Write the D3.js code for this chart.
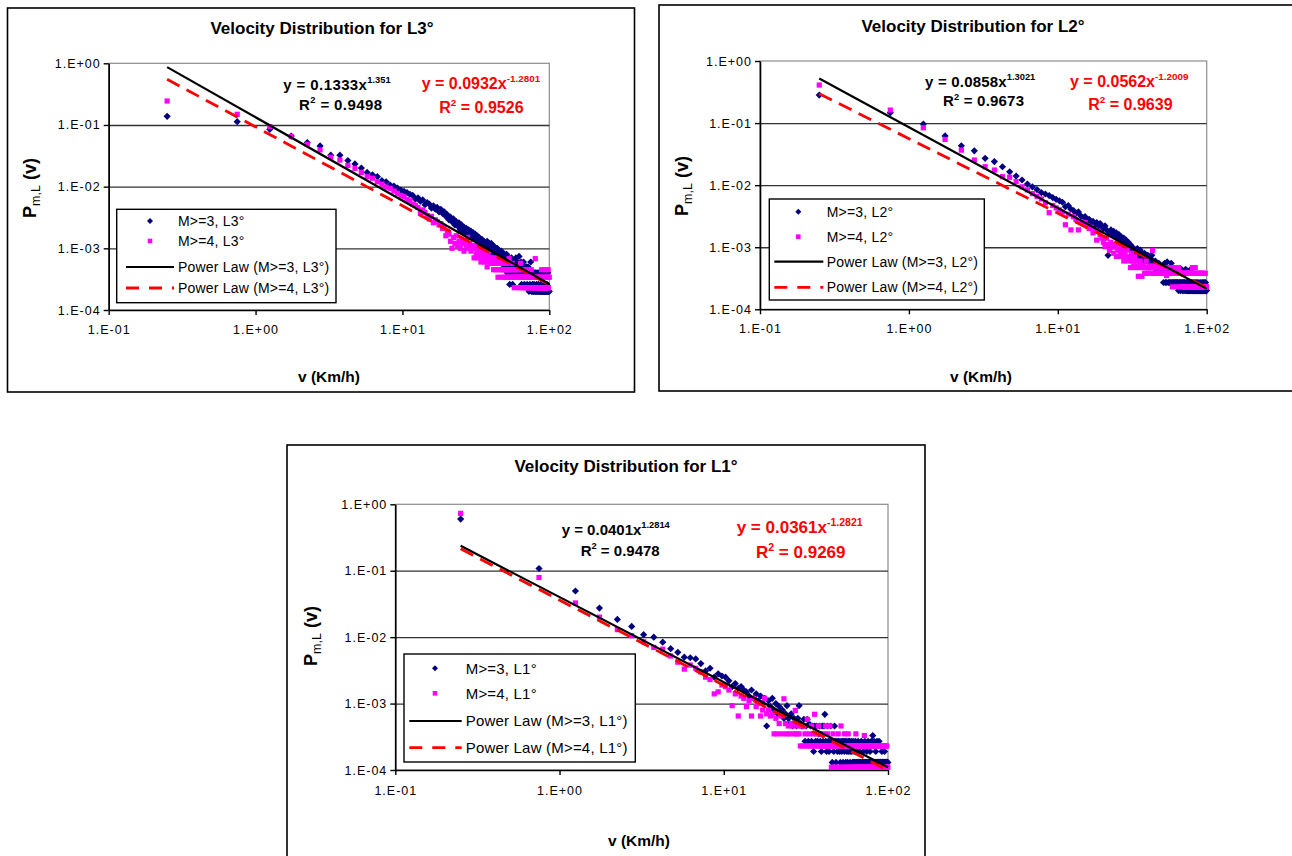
<!DOCTYPE html>
<html>
<head>
<meta charset="utf-8">
<script src="https://cdn.jsdelivr.net/npm/d3@7"></script>
<style>
  body { margin: 0; background: #fff; }
  svg text { font-family: Arial, "Liberation Sans", sans-serif; }
</style>
</head>
<body>
<svg id="chart" width="1292" height="856"></svg>
<script>
// velocity bins (km/h), shared by all series
const velocity = [
  0.25, 0.75, 1.25, 1.75, 2.25, 2.75, 3.25, 3.75, 4.25, 4.75, 5.25, 5.75, 6.25, 6.75, 7.25, 7.75, 8.25, 8.75, 9.25, 9.75,
  10.25, 10.75, 11.25, 11.75, 12.25, 12.75, 13.25, 13.75, 14.25, 14.75, 15.25, 15.75, 16.25, 16.75, 17.25, 17.75, 18.25, 18.75, 19.25, 19.75,
  20.25, 20.75, 21.25, 21.75, 22.25, 22.75, 23.25, 23.75, 24.25, 24.75, 25.25, 25.75, 26.25, 26.75, 27.25, 27.75, 28.25, 28.75, 29.25, 29.75,
  30.25, 30.75, 31.25, 31.75, 32.25, 32.75, 33.25, 33.75, 34.25, 34.75, 35.25, 35.75, 36.25, 36.75, 37.25, 37.75, 38.25, 38.75, 39.25, 39.75,
  40.25, 40.75, 41.25, 41.75, 42.25, 42.75, 43.25, 43.75, 44.25, 44.75, 45.25, 45.75, 46.25, 46.75, 47.25, 47.75, 48.25, 48.75, 49.25, 49.75,
  50.25, 50.75, 51.25, 51.75, 52.25, 52.75, 53.25, 53.75, 54.25, 54.75, 55.25, 55.75, 56.25, 56.75, 57.25, 57.75, 58.25, 58.75, 59.25, 59.75,
  60.25, 60.75, 61.25, 61.75, 62.25, 62.75, 63.25, 63.75, 64.25, 64.75, 65.25, 65.75, 66.25, 66.75, 67.25, 67.75, 68.25, 68.75, 69.25, 69.75,
  70.25, 70.75, 71.25, 71.75, 72.25, 72.75, 73.25, 73.75, 74.25, 74.75, 75.25, 75.75, 76.25, 76.75, 77.25, 77.75, 78.25, 78.75, 79.25, 79.75,
  80.25, 80.75, 81.25, 81.75, 82.25, 82.75, 83.25, 83.75, 84.25, 84.75, 85.25, 85.75, 86.25, 86.75, 87.25, 87.75, 88.25, 88.75, 89.25, 89.75,
  90.25, 90.75, 91.25, 91.75, 92.25, 92.75, 93.25, 93.75, 94.25, 94.75, 95.25, 95.75, 96.25, 96.75, 97.25, 97.75, 98.25, 98.75, 99.25, 99.75
];

// P(v) for L3°
const l3M3 = [
  0.138, 0.113, 0.085, 0.066, 0.052, 0.0457, 0.0324, 0.0324, 0.0265, 0.0234, 0.020, 0.017, 0.0156, 0.0145, 0.0125, 0.012, 0.0106, 0.0102, 0.0095, 0.0088,
  0.0084, 0.0080, 0.0075, 0.0072, 0.0063, 0.0066, 0.0058, 0.0061, 0.0051, 0.0055, 0.0052, 0.0045, 0.0049, 0.0043, 0.0046, 0.0039, 0.0043, 0.0037, 0.0039, 0.0033,
  0.0035, 0.0029, 0.0032, 0.0027, 0.0030, 0.0024, 0.0027, 0.0023, 0.0026, 0.0020, 0.0024, 0.0019, 0.0022, 0.0018, 0.0021, 0.0017, 0.0020, 0.0016, 0.0019, 0.0015,
  0.0018, 0.0015, 0.0017, 0.0014, 0.0016, 0.0012, 0.0015, 0.0013, 0.0011, 0.0014, 0.0012, 0.0013, 0.0010, 0.0012, 0.0011, 0.0013, 0.0009, 0.0012, 0.0010, 0.0011,
  0.0012, 0.0010, 0.0008, 0.0011, 0.0009, 0.0010, 0.0007, 0.0009, 0.0010, 0.0008, 0.0006, 0.0009, 0.0008, 0.0007, 0.0009, 0.0006, 0.0008, 0.0007, 0.0005, 0.0008,
  0.0007, 0.0006, 0.0008, 0.0004, 0.0006, 0.0007, 0.0005, 0.00026, 0.0006, 0.0004, 0.0007, 0.0005, 0.00026, 0.0006, 0.0004, 0.0005, 0.0006, 0.0004, 0.0007, 0.0005,
  0.0004, 0.0006, 0.0005, 0.0004, 0.00074, 0.0004, 0.0005, 0.0004, 0.0006, 0.00026, 0.0004, 0.0005, 0.0004, 0.0006, 0.0004, 0.00026, 0.0005, 0.0004, 0.0004, 0.0005,
  0.0004, 0.00026, 0.0004, 0.0005, 0.0004, 0.0002, 0.0004, 0.00026, 0.0004, 0.0006, 0.0004, 0.0002, 0.0004, 0.00026, 0.0002, 0.0004, 0.0002, 0.00026, 0.0004, 0.0002,
  0.0002, 0.0004, 0.0002, 0.00026, 0.0002, 0.0004, 0.0002, 0.0002, 0.00026, 0.0004, 0.0002, 0.0002, 0.0004, 0.0002, 0.00026, 0.0002, 0.0002, 0.0004, 0.0002, 0.0002,
  0.0002, 0.0002, 0.0004, 0.0002, 0.0002, 0.00026, 0.0002, 0.0002, 0.0004, 0.0002, 0.0002, 0.0002, 0.00026, 0.0002, 0.0002, 0.0004, 0.0002, 0.0002, 0.0002, 0.0002
];
const l3M4 = [
  0.245, 0.149, 0.094, 0.065, 0.0487, 0.0394, 0.030, 0.027, 0.022, 0.0198, 0.017, 0.0145, 0.0137, 0.012, 0.011, 0.0098, 0.0094, 0.0085, 0.0078, 0.0072,
  0.0068, 0.0062, 0.0059, 0.0052, 0.0050, 0.0046, 0.0037, 0.0042, 0.0038, 0.0034, 0.0030, 0.0033, 0.0026, 0.0029, 0.0027, 0.0024, 0.0025, 0.0021, 0.0022, 0.0016,
  0.0019, 0.0017, 0.0013, 0.0010, 0.0015, 0.0012, 0.0016, 0.0011, 0.0013, 0.0010, 0.0014, 0.0012, 0.0009, 0.0013, 0.0011, 0.0015, 0.0010, 0.0012, 0.0009, 0.0011,
  0.0010, 0.0007, 0.0011, 0.0008, 0.0009, 0.0007, 0.0010, 0.0008, 0.0006, 0.0009, 0.0007, 0.0008, 0.0006, 0.0009, 0.0007, 0.0005, 0.0008, 0.0006, 0.0007, 0.0006,
  0.0007, 0.00057, 0.0006, 0.00045, 0.0007, 0.00057, 0.00045, 0.0006, 0.00057, 0.00034, 0.00045, 0.00057, 0.0006, 0.00045, 0.00034, 0.00057, 0.00045, 0.00057, 0.00034, 0.00045,
  0.00045, 0.00034, 0.00057, 0.00045, 0.00034, 0.00045, 0.00068, 0.00034, 0.00045, 0.00034, 0.00045, 0.00057, 0.00034, 0.00045, 0.00034, 0.00023, 0.00045, 0.00034, 0.00045, 0.00034,
  0.00034, 0.00045, 0.00034, 0.00023, 0.00045, 0.00034, 0.00034, 0.00057, 0.00034, 0.00023, 0.00034, 0.00045, 0.00034, 0.00034, 0.00023, 0.00045, 0.00034, 0.00034, 0.00023, 0.00034,
  0.00034, 0.00023, 0.00034, 0.00045, 0.00023, 0.00034, 0.00023, 0.00034, 0.00023, 0.00034, 0.00045, 0.00023, 0.00034, 0.00023, 0.00023, 0.00034, 0.00023, 0.00034, 0.00023, 0.00023,
  0.00068, 0.00023, 0.00034, 0.00023, 0.00023, 0.00034, 0.00023, 0.00023, 0.00034, 0.00023, 0.00023, 0.00034, 0.00023, 0.00023, 0.00023, 0.00034, 0.00023, 0.00045, 0.00023, 0.00023,
  0.00023, 0.00034, 0.00023, 0.00023, 0.00023, 0.00034, 0.00023, 0.00023, 0.00045, 0.00023, 0.00034, 0.00023, 0.00023, 0.00034, 0.00023, 0.00023, 0.00045, 0.00023, 0.00034, 0.00034
];

// P(v) for L2°
const l2M3 = [
  0.283, 0.147, 0.0964, 0.062, 0.043, 0.0357, 0.027, 0.024, 0.0198, 0.0164, 0.014, 0.0121, 0.0104, 0.0094, 0.0085, 0.0076, 0.0072, 0.0068, 0.0063, 0.0059,
  0.0056, 0.0053, 0.0045, 0.0047, 0.0041, 0.0039, 0.0035, 0.0037, 0.0032, 0.0030, 0.0031, 0.0027, 0.0028, 0.0025, 0.0026, 0.0023, 0.0025, 0.0022, 0.0024, 0.0021,
  0.0020, 0.0022, 0.0019, 0.00074, 0.0017, 0.0019, 0.0016, 0.0018, 0.0015, 0.0017, 0.0014, 0.0016, 0.0013, 0.00146, 0.0012, 0.0014, 0.0011, 0.0013, 0.00114, 0.0012,
  0.0010, 0.0011, 0.0009, 0.0010, 0.00095, 0.0008, 0.0009, 0.0007, 0.00095, 0.0008, 0.0007, 0.0009, 0.0006, 0.0008, 0.0007, 0.0006, 0.0008, 0.0007, 0.0006, 0.0007,
  0.00074, 0.0006, 0.0007, 0.00055, 0.0006, 0.00074, 0.0005, 0.0006, 0.00055, 0.0005, 0.0006, 0.00044, 0.00055, 0.0005, 0.00044, 0.00055, 0.0005, 0.00044, 0.0005, 0.00044,
  0.00044, 0.0005, 0.00027, 0.00044, 0.00055, 0.00027, 0.00044, 0.00027, 0.00058, 0.00044, 0.00027, 0.00044, 0.00027, 0.00044, 0.00027, 0.00055, 0.00027, 0.00044, 0.00027, 0.00027,
  0.00044, 0.00027, 0.00027, 0.00044, 0.00027, 0.00027, 0.00044, 0.00027, 0.00027, 0.0002, 0.00044, 0.00027, 0.00027, 0.0002, 0.00027, 0.00044, 0.00027, 0.0002, 0.00027, 0.00027,
  0.0002, 0.00027, 0.00027, 0.0002, 0.00044, 0.00027, 0.0002, 0.00027, 0.0002, 0.00027, 0.0002, 0.00027, 0.0002, 0.0002, 0.00027, 0.0002, 0.00044, 0.0002, 0.00027, 0.0002,
  0.0002, 0.00027, 0.0002, 0.0002, 0.00027, 0.0002, 0.0002, 0.00027, 0.0002, 0.0002, 0.00027, 0.0002, 0.0002, 0.0002, 0.00027, 0.0002, 0.0002, 0.00027, 0.0002, 0.0002,
  0.0002, 0.0002, 0.00027, 0.0002, 0.0002, 0.0002, 0.00027, 0.0002, 0.0002, 0.00027, 0.0002, 0.0002, 0.0002, 0.00027, 0.0002, 0.0002, 0.00027, 0.0002, 0.0002, 0.0002
];
const l2M4 = [
  0.41, 0.162, 0.084, 0.0546, 0.0367, 0.0254, 0.0198, 0.0175, 0.0137, 0.0134, 0.0114, 0.0094, 0.0084, 0.0073, 0.0066, 0.0060, 0.0052, 0.0036, 0.0047, 0.0043,
  0.0040, 0.0037, 0.0023, 0.0034, 0.0019, 0.0031, 0.0028, 0.0019, 0.0026, 0.0024, 0.0025, 0.0022, 0.0020, 0.0021, 0.0017, 0.0019, 0.0013, 0.0018, 0.0016, 0.0014,
  0.0012, 0.00102, 0.0014, 0.0011, 0.00089, 0.0012, 0.0010, 0.0008, 0.0011, 0.00071, 0.0009, 0.0010, 0.0008, 0.00071, 0.0009, 0.0006, 0.0008, 0.0007, 0.0009, 0.0006,
  0.0007, 0.00047, 0.0008, 0.0006, 0.0005, 0.0007, 0.00047, 0.0006, 0.0005, 0.00034, 0.00047, 0.0006, 0.0005, 0.00034, 0.00047, 0.0005, 0.00038, 0.00047, 0.0006, 0.00038,
  0.00047, 0.00038, 0.0005, 0.00038, 0.00047, 0.00038, 0.00089, 0.00047, 0.00038, 0.0005, 0.00038, 0.00047, 0.00038, 0.00038, 0.00047, 0.00038, 0.00038, 0.00047, 0.00038, 0.00038,
  0.00038, 0.00047, 0.00038, 0.00038, 0.00047, 0.00038, 0.00038, 0.00035, 0.00038, 0.00047, 0.00038, 0.00038, 0.00038, 0.00047, 0.00038, 0.00038, 0.00038, 0.00023, 0.00038, 0.00038,
  0.00038, 0.00038, 0.00047, 0.00038, 0.00038, 0.00023, 0.00038, 0.00038, 0.00038, 0.00047, 0.00038, 0.00038, 0.00023, 0.00038, 0.00038, 0.00038, 0.00023, 0.00038, 0.00038, 0.00023,
  0.00038, 0.00023, 0.00038, 0.00038, 0.00023, 0.00038, 0.00023, 0.00038, 0.00038, 0.00023, 0.00038, 0.00023, 0.00038, 0.00023, 0.00038, 0.00023, 0.00023, 0.00038, 0.00023, 0.00038,
  0.00047, 0.00023, 0.00038, 0.00023, 0.00023, 0.00038, 0.00023, 0.00047, 0.00023, 0.00038, 0.00023, 0.00023, 0.00038, 0.00023, 0.00023, 0.00038, 0.00023, 0.00023, 0.00038, 0.00023,
  0.00023, 0.00038, 0.00023, 0.00023, 0.00038, 0.00023, 0.00023, 0.00023, 0.00038, 0.00023, 0.00023, 0.00038, 0.00023, 0.00023, 0.00023, 0.00038, 0.00023, 0.00023, 0.00023, 0.00023
];

// P(v) for L1°
const l1M3 = [
  0.6, 0.108, 0.0495, 0.0274, 0.0185, 0.0145, 0.0109, 0.0100, 0.0084, 0.0067, 0.0059, 0.0050, 0.0049, 0.0047, 0.0040, 0.0031, 0.0034, 0.0025, 0.0028, 0.0026,
  0.0025, 0.0022, 0.0018, 0.0020, 0.0017, 0.0018, 0.0016, 0.0015, 0.0013, 0.0016, 0.0012, 0.0014, 0.0011, 0.0013, 0.0010, 0.0012, 0.00046, 0.0011, 0.0009, 0.0012,
  0.0008, 0.0010, 0.0007, 0.0009, 0.00069, 0.0008, 0.0006, 0.0007, 0.00093, 0.0006, 0.0005, 0.0007, 0.00046, 0.0006, 0.0005, 0.00046, 0.0006, 0.00093, 0.0005, 0.00046,
  0.00046, 0.00058, 0.00027, 0.00046, 0.00058, 0.00027, 0.00049, 0.00046, 0.00027, 0.00046, 0.00019, 0.00046, 0.00027, 0.00046, 0.00027, 0.00035, 0.00046, 0.00027, 0.00019, 0.00046,
  0.00027, 0.00046, 0.00069, 0.00027, 0.00019, 0.00046, 0.00027, 0.00019, 0.00027, 0.00046, 0.00027, 0.00013, 0.00027, 0.00019, 0.00046, 0.00027, 0.00013, 0.00027, 0.00019, 0.00027,
  0.00027, 0.00019, 0.00013, 0.00027, 0.00019, 0.00027, 0.00013, 0.00027, 0.00019, 0.00027, 0.00013, 0.00027, 0.00019, 0.00013, 0.00027, 0.00019, 0.00027, 0.00013, 0.00019, 0.00027,
  0.00019, 0.00013, 0.00027, 0.00013, 0.00019, 0.00013, 0.00027, 0.00013, 0.00013, 0.00019, 0.00013, 0.00027, 0.00013, 0.00013, 0.00019, 0.00013, 0.00013, 0.00027, 0.00013, 0.00013,
  0.00013, 0.00019, 0.00013, 0.00013, 0.00027, 0.00013, 0.00013, 0.00013, 0.00019, 0.00013, 0.00013, 0.00027, 0.00013, 0.00013, 0.00013, 0.00019, 0.00013, 0.00013, 0.00027, 0.00013,
  0.00013, 0.00033, 0.00013, 0.00013, 0.00027, 0.00013, 0.00013, 0.00013, 0.00019, 0.00013, 0.00013, 0.00027, 0.00013, 0.00013, 0.00013, 0.00013, 0.00027, 0.00013, 0.00013, 0.00013,
  0.00013, 0.00013, 0.00013, 0.00019, 0.00013, 0.00013, 0.00013, 0.00013, 0.00013, 0.00013, 0.00019, 0.00013, 0.00013, 0.00013, 0.00013, 0.00013, 0.00013, 0.00013, 0.00013, 0.00013
];
const l1M4 = [
  0.73, 0.079, 0.0327, 0.020, 0.013, 0.0105, 0.0085, 0.0070, 0.0066, 0.0052, 0.0042, 0.0033, 0.0038, 0.0034, 0.0030, 0.0025, 0.0023, 0.0014, 0.0015, 0.0019,
  0.0018, 0.0016, 0.00093, 0.0014, 0.00065, 0.0013, 0.0012, 0.0009, 0.0011, 0.00065, 0.0012, 0.0009, 0.0010, 0.00065, 0.0008, 0.0012, 0.0007, 0.0008, 0.00065, 0.0007,
  0.00035, 0.0006, 0.00035, 0.0005, 0.00065, 0.00035, 0.00118, 0.0005, 0.00035, 0.00046, 0.00035, 0.0005, 0.00046, 0.00035, 0.00079, 0.00035, 0.00046, 0.00035, 0.00023, 0.00046,
  0.00023, 0.00046, 0.00035, 0.00023, 0.00058, 0.00023, 0.00035, 0.00023, 0.00046, 0.00023, 0.00035, 0.00069, 0.00023, 0.00035, 0.00023, 0.00046, 0.00023, 0.00035, 0.00023, 0.00023,
  0.00035, 0.00023, 0.00023, 0.00046, 0.00023, 0.00035, 0.00023, 0.00023, 0.00046, 0.00023, 0.00011, 0.00023, 0.00035, 0.00023, 0.00011, 0.00023, 0.00023, 0.00011, 0.00023, 0.00035,
  0.00023, 0.00011, 0.00023, 0.00046, 0.00011, 0.00023, 0.00023, 0.00011, 0.00035, 0.00023, 0.00011, 0.00023, 0.00011, 0.00023, 0.00035, 0.00011, 0.00023, 0.00011, 0.00023, 0.00011,
  0.00023, 0.00011, 0.00023, 0.00011, 0.00011, 0.00023, 0.00011, 0.00035, 0.00011, 0.00023, 0.00011, 0.00011, 0.00023, 0.00011, 0.00023, 0.00011, 0.00011, 0.00023, 0.00011, 0.00023,
  0.00011, 0.00023, 0.00011, 0.00033, 0.00011, 0.00023, 0.00011, 0.00011, 0.00023, 0.00011, 0.00023, 0.00011, 0.00011, 0.00023, 0.00011, 0.00023, 0.00011, 0.00011, 0.00023, 0.00011,
  0.00023, 0.00011, 0.00023, 0.00011, 0.00011, 0.00023, 0.00011, 0.00023, 0.00011, 0.00011, 0.00023, 0.00011, 0.00011, 0.00023, 0.00011, 0.00011, 0.00023, 0.00011, 0.00011, 0.00023,
  0.00011, 0.00023, 0.00011, 0.00011, 0.00023, 0.00011, 0.00011, 0.00011, 0.00023, 0.00011, 0.00011, 0.00011, 0.00023, 0.00011, 0.00011, 0.00011, 0.00023, 0.00011, 0.00011, 0.00011
];

// power law fits y = a * x^b  [M>=3, M>=4]
const fitA_L3 = [0.1333, 0.0932], fitB_L3 = [-1.351, -1.2801];
const fitA_L2 = [0.0858, 0.0562], fitB_L2 = [-1.3021, -1.2009];
const fitA_L1 = [0.0401, 0.0361], fitB_L1 = [-1.2814, -1.2821];

// equation labels as printed: [coef text, exponent text, R2 text]
const eqL3 = [["y = 0.1333x", "1.351", " = 0.9498"], ["y = 0.0932x", "-1.2801", " = 0.9526"]];
const eqL2 = [["y = 0.0858x", "1.3021", " = 0.9673"], ["y = 0.0562x", "-1.2009", " = 0.9639"]];
const eqL1 = [["y = 0.0401x", "1.2814", " = 0.9478"], ["y = 0.0361x", "-1.2821", " = 0.9269"]];

const xTicks = [0.1, 1, 10, 100];
const xTickLabels = ["1.E-01", "1.E+00", "1.E+01", "1.E+02"];
const yTicks = [1, 0.1, 0.01, 0.001, 0.0001];
const yTickLabels = ["1.E+00", "1.E-01", "1.E-02", "1.E-03", "1.E-04"];

const svg = d3.select("#chart");
const navy = "#000080", magenta = "#FF00FF", red = "#FF0000";
const diamond = "M0,-3.6L3.6,0L0,3.6L-3.6,0Z";
const fontFam = "Arial, 'Liberation Sans', sans-serif";

function drawChart(c) {
  const g = svg.append("g");

  // outer frame
  g.append("rect")
    .attr("x", c.frame[0]).attr("y", c.frame[1])
    .attr("width", c.frame[2]).attr("height", c.frame[3])
    .attr("fill", "#fff").attr("stroke", "#000").attr("stroke-width", 1.6);

  const x = d3.scaleLog().domain([0.1, 100]).range([c.left, c.right]);
  const y = d3.scaleLog().domain([0.0001, 1]).range([c.bottom, c.top]);

  // plot area border
  g.append("rect")
    .attr("x", c.left).attr("y", c.top)
    .attr("width", c.right - c.left).attr("height", c.bottom - c.top)
    .attr("fill", "none").attr("stroke", "#8c8c8c").attr("stroke-width", 1.2);

  // gridlines
  g.append("g")
    .attr("transform", `translate(${c.left},0)`)
    .call(d3.axisLeft(y).tickValues(yTicks.slice(1, 4)).tickSize(-(c.right - c.left)).tickFormat(""))
    .call(s => s.select(".domain").remove())
    .call(s => s.selectAll("line").attr("stroke", "#333").attr("stroke-width", 1.3));

  // axes
  const styleAxis = s => {
    s.select(".domain").attr("stroke", "#000").attr("stroke-width", 1.6);
    s.selectAll("line").attr("stroke", "#000").attr("stroke-width", 1.4);
    s.selectAll("text").style("font-size", c.tickSize + "px").attr("letter-spacing", 1)
      .attr("font-family", fontFam).attr("fill", "#000");
  };
  g.append("g")
    .attr("transform", `translate(${c.left},0)`)
    .call(d3.axisLeft(y).tickValues(yTicks).tickFormat((d, i) => yTickLabels[i]).tickSize(5).tickSizeOuter(0).tickPadding(3))
    .call(styleAxis);

  g.append("g")
    .attr("transform", `translate(0,${c.bottom})`)
    .call(d3.axisBottom(x).tickValues(xTicks).tickFormat((d, i) => xTickLabels[i]).tickSize(5).tickSizeOuter(0).tickPadding(c.xPad))
    .call(styleAxis);

  // scatter series
  const pts = (arr) => arr.map((p, i) => ({ v: velocity[i], p })).filter(d => d.p > 0);

  g.append("g").selectAll("path")
    .data(pts(c.m3))
    .join("path")
    .attr("d", diamond)
    .attr("transform", d => `translate(${x(d.v)},${y(d.p)})`)
    .attr("fill", navy);

  g.append("g").selectAll("rect")
    .data(pts(c.m4))
    .join("rect")
    .attr("x", d => x(d.v) - 2.6).attr("y", d => y(d.p) - 2.6)
    .attr("width", 5.2).attr("height", 5.2)
    .attr("fill", magenta);

  // trend lines (straight on log-log), drawn over the data range
  const vMin = velocity[0], vMax = 100;
  const line = d3.line().x(d => x(d[0])).y(d => y(d[1]));
  [1, 0].forEach(k => {
    const ends = [vMin, vMax].map(v => [v, c.fitA[k] * Math.pow(v, c.fitB[k])]);
    g.append("path")
      .attr("d", line(ends))
      .attr("fill", "none")
      .attr("stroke", k === 0 ? "#000" : red)
      .attr("stroke-width", k === 0 ? 2.2 : 2.8)
      .attr("stroke-dasharray", k === 0 ? null : "14,8");
  });

  // title and axis titles
  g.append("text")
    .attr("x", c.title[0]).attr("y", c.title[1])
    .attr("text-anchor", "middle").attr("font-size", 17).attr("font-weight", "bold")
    .text(c.titleText);

  g.append("text")
    .attr("x", c.xLabel[0]).attr("y", c.xLabel[1])
    .attr("text-anchor", "middle").attr("font-size", 15.5).attr("font-weight", "bold")
    .text("v (Km/h)");

  const yl = g.append("text")
    .attr("transform", `translate(${c.yLabel[0]},${c.yLabel[1]}) rotate(-90)`)
    .attr("text-anchor", "middle").attr("font-weight", "bold").attr("font-size", 18);
  yl.append("tspan").text("P");
  yl.append("tspan").attr("font-size", 12.5).attr("font-weight", "normal").attr("dy", 4).text("m,L");
  yl.append("tspan").attr("dy", -4).text(" (v)");

  // equations
  const eq = (pos, lines, size, color, ls) => {
    const t1 = g.append("text").attr("x", pos[0]).attr("y", pos[1])
      .attr("font-size", size).attr("font-weight", "bold").attr("fill", color).attr("letter-spacing", ls);
    t1.append("tspan").text(lines[0]);
    t1.append("tspan").attr("font-size", size * 0.62).attr("letter-spacing", 0).attr("dy", -size * 0.45).text(lines[1]);
    const t2 = g.append("text").attr("x", pos[2]).attr("y", pos[3])
      .attr("font-size", size).attr("font-weight", "bold").attr("fill", color).attr("letter-spacing", ls);
    t2.append("tspan").text("R");
    t2.append("tspan").attr("font-size", size * 0.62).attr("dy", -size * 0.42).text("2");
    t2.append("tspan").attr("dy", size * 0.42).text(lines[2]);
  };
  eq(c.eqBlack, c.eq[0], c.eqSize[0], "#000", c.eqSpacing[0]);
  eq(c.eqRed, c.eq[1], c.eqSize[1], red, c.eqSpacing[1]);

  // legend
  const L = c.legend;
  g.append("rect")
    .attr("x", L.box[0]).attr("y", L.box[1]).attr("width", L.box[2]).attr("height", L.box[3])
    .attr("fill", "#fff").attr("stroke", "#000").attr("stroke-width", 1.4);
  const names = [`M>=3, ${c.tag}`, `M>=4, ${c.tag}`, `Power Law (M>=3, ${c.tag})`, `Power Law (M>=4, ${c.tag})`];
  names.forEach((n, i) => {
    const ry = L.rows[i];
    if (i === 0) {
      g.append("path").attr("d", "M0,-3L3,0L0,3L-3,0Z")
        .attr("transform", `translate(${L.marker},${ry})`).attr("fill", navy);
    } else if (i === 1) {
      g.append("rect").attr("x", L.marker - 2.3).attr("y", ry - 2.3)
        .attr("width", 4.6).attr("height", 4.6).attr("fill", magenta);
    } else {
      g.append("line").attr("x1", L.line[0]).attr("x2", L.line[1])
        .attr("y1", ry).attr("y2", ry)
        .attr("stroke", i === 2 ? "#000" : red)
        .attr("stroke-width", i === 2 ? 2.2 : 2.8)
        .attr("stroke-dasharray", i === 2 ? null : "13,10");
    }
    g.append("text")
      .attr("x", L.text).attr("y", ry).attr("dy", "0.35em")
      .attr("font-size", L.size).attr("letter-spacing", 0.2)
      .text(n);
  });
}

drawChart({
  tag: "L3°", titleText: "Velocity Distribution for L3°",
  frame: [7.5, 8, 627, 384],
  left: 108.7, right: 549.3, top: 63.3, bottom: 310,
  m3: l3M3, m4: l3M4, fitA: fitA_L3, fitB: fitB_L3,
  tickSize: 12.5, xPad: 10,
  title: [322, 34], xLabel: [329, 382], yLabel: [36, 188],
  eq: eqL3, eqSize: [15, 16], eqSpacing: [0.4, 0],
  eqBlack: [283.3, 90, 299, 109.5], eqRed: [421.7, 89.3, 439.3, 112.7],
  legend: { box: [116.7, 209.3, 219.3, 93.4], rows: [221, 241, 267, 288], marker: 150, line: [126, 174], text: 178, size: 14 }
});

drawChart({
  tag: "L2°", titleText: "Velocity Distribution for L2°",
  frame: [659, 5, 640, 386],
  left: 760, right: 1206.7, top: 61, bottom: 309.3,
  m3: l2M3, m4: l2M4, fitA: fitA_L2, fitB: fitB_L2,
  tickSize: 12.5, xPad: 10,
  title: [973, 32], xLabel: [981, 382], yLabel: [688, 186],
  eq: eqL2, eqSize: [15, 16], eqSpacing: [0.2, 0],
  eqBlack: [925, 86.7, 943, 106], eqRed: [1070, 86.7, 1088.3, 110],
  legend: { box: [769.3, 199, 215, 101], rows: [211.7, 236.7, 261.7, 287.3], marker: 798.3, line: [774.3, 823.3], text: 826.7, size: 14 }
});

drawChart({
  tag: "L1°", titleText: "Velocity Distribution for L1°",
  frame: [287, 445, 638, 420],
  left: 395.3, right: 888, top: 504.3, bottom: 770,
  m3: l1M3, m4: l1M4, fitA: fitA_L1, fitB: fitB_L1,
  tickSize: 12.5, xPad: 11,
  title: [626, 472], xLabel: [639, 846], yLabel: [317, 636],
  eq: eqL1, eqSize: [15, 17], eqSpacing: [0, 0],
  eqBlack: [561.7, 535, 580.7, 555.7], eqRed: [736.7, 533.3, 756, 558.3],
  legend: { box: [404, 654, 231.3, 108], rows: [668.3, 693.3, 721, 747.7], marker: 435, line: [409.3, 461.7], text: 465.7, size: 15 }
});
</script>
</body>
</html>
